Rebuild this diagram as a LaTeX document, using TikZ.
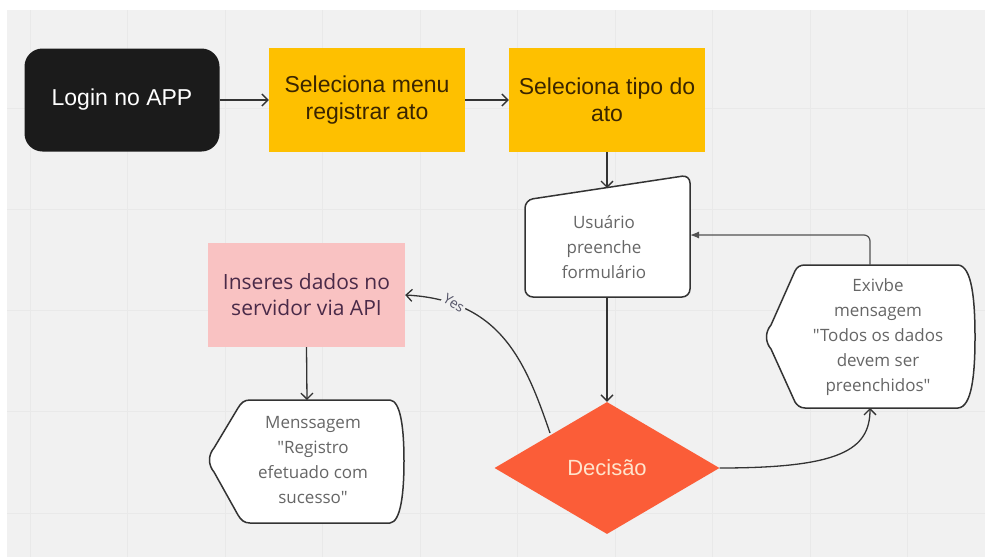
\documentclass[tikz,border=0pt]{standalone}
\usepackage{fontspec}
\setmainfont{Liberation Sans}
\newfontfamily\opensans{Open Sans}
\usetikzlibrary{arrows.meta,shapes.geometric}
\definecolor{bgc}{HTML}{F1F1F1}
\definecolor{gridc}{HTML}{E9E9E9}
\definecolor{loginc}{HTML}{1B1B1B}
\definecolor{yellowc}{HTML}{FEC000}
\definecolor{yeltext}{HTML}{3A2500}
\definecolor{pinkc}{HTML}{F9C2C2}
\definecolor{pinktext}{HTML}{4A2A48}
\definecolor{decc}{HTML}{FB5D38}
\definecolor{dectext}{HTML}{FFE4CC}
\definecolor{linec}{HTML}{333333}
\definecolor{graytext}{HTML}{666666}
\definecolor{yestext}{HTML}{555569}
\tikzset{
  mainfont/.style={font=\fontsize{23}{27}\selectfont, align=center},
  smallfont/.style={font=\opensans\fontsize{17}{25}\selectfont, text=graytext, align=center},
  boxbase/.style={rectangle, minimum width=196pt, minimum height=104pt, inner sep=0pt},
  outline/.style={draw=linec, line width=1.5pt, fill=white, line join=round},
  conn/.style={draw=linec, line width=1.3pt, -{Straight Barb[length=6pt,width=12pt,line width=1.3pt]}},
}
\begin{document}
\begin{tikzpicture}[x=1pt,y=-1pt]
\useasboundingbox (0,0) rectangle (985,557);
\fill[white] (0,0) rectangle (985,557);
\fill[bgc] (7,10) rectangle (985,557);
\foreach \gx in {30,127.5,225,322.5,420,517.5,615,712.5,810,907.5}
  \draw[gridc, line width=1pt] (\gx,10) -- (\gx,557);
\foreach \gy in {108,209,310,411,513}
  \draw[gridc, line width=1pt] (7,\gy) -- (985,\gy);

% top row
\node[boxbase, fill=loginc, rounded corners=18pt, minimum width=195pt, minimum height=103pt, mainfont, text=white] (login) at (122,100) {Login no APP};
\node[boxbase, fill=yellowc, mainfont, text=yeltext] (menu) at (367,100) {Seleciona menu\\registrar ato};
\node[boxbase, fill=yellowc, mainfont, text=yeltext] (tipo) at (607,100) {Seleciona tipo do\\ato};

% Usuario (manual input)
\draw[outline, rounded corners=8pt] (525,200) -- (690,175) -- (690,297) -- (525,297) -- cycle;
\node[smallfont] (usu) at (604,247) {Usuário\\preenche\\formulário};
\coordinate (usutop) at (607,188);
\coordinate (usuright) at (690,235);
\coordinate (usubot) at (607,297);

% Exivbe (display)
\draw[outline] (771,325) -- (795,271) .. controls (797,267) and (800,265) .. (805,265) -- (958,265)
  .. controls (972,266) and (975,300) .. (975,337)
  .. controls (975,374) and (972,407) .. (958,408) -- (805,408)
  .. controls (800,408) and (797,405) .. (795,402) -- (771,349)
  .. controls (765,342) and (765,332) .. (771,325) -- cycle;
\node[smallfont] (exi) at (878,337) {Exivbe\\mensagem\\"Todos os dados\\devem ser\\preenchidos"};
\coordinate (exitop) at (870,265);
\coordinate (exibot) at (870,408);

% Decision
\node[diamond, fill=decc, minimum width=225pt, minimum height=132pt, inner sep=0pt, font=\fontsize{22}{26}\selectfont, text=dectext] (dec) at (607,468) {Decisão};
\coordinate (decyes) at (550,433);

% Pink box
\node[boxbase, fill=pinkc, minimum width=197pt, font=\opensans\fontsize{21}{26}\selectfont, text=pinktext, align=center] (api) at (306.5,295) {Inseres dados no\\servidor via API};

% Menssagem (display)
\draw[outline] (214,448) -- (238,408) .. controls (241,403) and (244,400) .. (250,400) -- (390,400)
  .. controls (401,401) and (404,430) .. (404,461)
  .. controls (404,492) and (401,522) .. (390,523) -- (250,523)
  .. controls (244,523) and (241,520) .. (238,515) -- (214,472)
  .. controls (208,465) and (208,455) .. (214,448) -- cycle;
\node[smallfont] (msg) at (313,460) {Menssagem\\"Registro\\efetuado com\\sucesso"};
\coordinate (msgtop) at (307,400);

% connectors
\draw[conn] (login.east) -- (menu.west);
\draw[conn] (menu.east) -- (tipo.west);
\draw[conn] (tipo.south) -- (usutop);
\draw[conn] (usubot) -- (dec.north);
\draw[conn] (api.south) -- (msgtop);
\draw[conn] (dec.east) .. controls (840,468) and (870,450) .. (exibot);
\draw[draw=linec!85, line width=1.2pt, rounded corners=6pt, -{Latex[length=9pt,width=7pt]}] (exitop) -- (870,235) -- (usuright);
\draw[conn] (decyes) .. controls (525,360) and (500,300) .. (api.east);
\node[fill=bgc, inner sep=1.5pt, rotate=-32, font=\opensans\fontsize{14}{16}\selectfont, text=yestext] (yes) at (454,303) {Yes};
\end{tikzpicture}
\end{document}
